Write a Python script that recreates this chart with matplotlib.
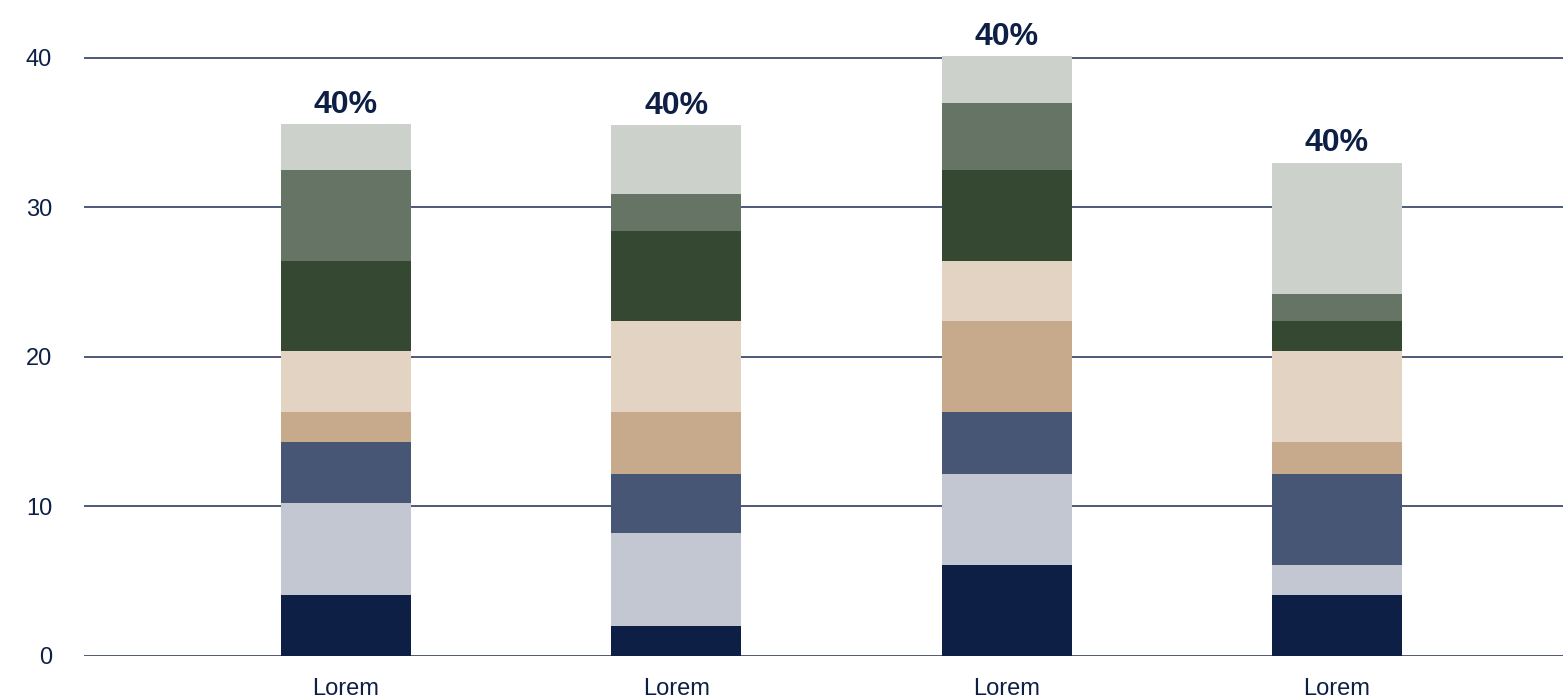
import numpy as np
from matplotlib import pyplot as plt

# datos
categorias = ['Lorem', 'Lorem', 'Lorem', 'Lorem']
etiquetas = ['40%', '40%', '40%', '40%']

# segmentos de abajo hacia arriba, uno por barra
serie1 = [4.1, 2.0, 6.1, 4.1]
serie2 = [6.1, 6.2, 6.1, 2.0]
serie3 = [4.1, 4.0, 4.1, 6.1]
serie4 = [2.0, 4.1, 6.1, 2.1]
serie5 = [4.1, 6.1, 4.0, 6.1]
serie6 = [6.0, 6.0, 6.1, 2.0]
serie7 = [6.1, 2.5, 4.5, 1.8]
serie8 = [3.1, 4.6, 3.1, 8.8]

series = [serie1, serie2, serie3, serie4, serie5, serie6, serie7, serie8]
colores = ['#0d1f45', '#c3c7d2', '#465674', '#c7aa8b',
           '#e3d3c3', '#344832', '#667465', '#ccd1cb']

texto = '#0d1f45'
plt.rcParams['font.family'] = ['Liberation Sans', 'DejaVu Sans']

fig = plt.figure(figsize=(15.63, 6.98), dpi=100)
ax = fig.add_axes([84 / 1563, 42 / 698, 1 - 84 / 1563, 628 / 698])

x = np.arange(len(categorias))
ancho = 0.3935
base = np.zeros(len(categorias))
for valores, color in zip(series, colores):
    ax.bar(x, valores, ancho, bottom=base, color=color, zorder=2)
    base += np.array(valores)

for xi, total, etiqueta in zip(x, base, etiquetas):
    ax.annotate(etiqueta, (xi, total), xytext=(0, 8), textcoords='offset points',
                ha='center', va='baseline', fontsize=23, fontweight='bold',
                color=texto, annotation_clip=False)

ax.set_xlim(-0.793, 3.684)
ax.set_ylim(0, 42)
ax.set_yticks([0, 10, 20, 30, 40])
ax.set_xticks(x)
ax.set_xticklabels(categorias)
ax.yaxis.grid(True, color='#1c2c52', linewidth=1.1, zorder=0)
ax.set_axisbelow(True)
for lado in ax.spines.values():
    lado.set_visible(False)
ax.tick_params(axis='y', length=0, pad=23, labelsize=17, labelcolor=texto)
ax.tick_params(axis='x', length=0, pad=16, labelsize=17, labelcolor=texto)

fig.savefig('out.png', dpi=100)
